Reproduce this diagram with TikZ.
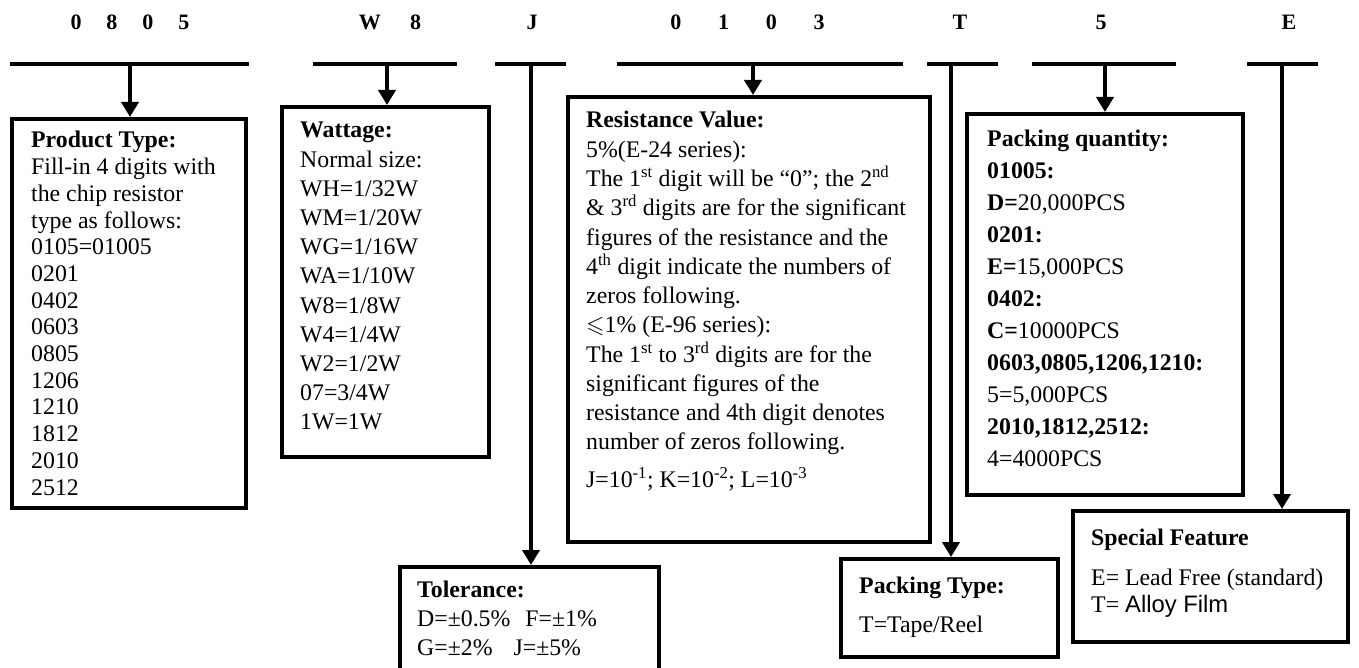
\documentclass[tikz,border=0pt]{standalone}
\usepackage{fontspec}
\setmainfont{Liberation Serif}
\newfontfamily\sansf{Liberation Sans}
\usepackage{amssymb}
\usetikzlibrary{arrows.meta}
\newcommand\blk[2]{\fontsize{23.8}{#1}\selectfont\begin{tabular}[t]{@{}l@{}}#2\end{tabular}}
\begin{document}
\begin{tikzpicture}[x=1pt,y=-1pt,
  bar/.style={line width=4pt},
  link/.style={line width=4pt,-{Triangle[width=17pt,length=15pt]}},
  box/.style={draw,line width=3.8pt,inner sep=0pt,anchor=north west,fill=white},
  txt/.style={anchor=base west,inner sep=0pt},
  code/.style={anchor=base,inner sep=0pt,font=\fontsize{22}{26}\selectfont\bfseries}]
\useasboundingbox (0,0) rectangle (1359,668);
\fill[white] (0,0) rectangle (1359,668);

% code letters
\node[code] (c1) at (130,30) {0\hspace{25pt}8\hspace{25pt}0\hspace{25pt}5};
\node[code] (c2) at (390,30) {W\hspace{29.5pt}8};
\node[code] (c3) at (532,30) {J};
\node[code] (c4) at (747.5,30) {0\hspace{36.7pt}1\hspace{36.7pt}0\hspace{36.7pt}3};
\node[code] (c5) at (960,30) {T};
\node[code] (c6) at (1101,30) {5};
\node[code] (c7) at (1289,30) {E};

% bars
\coordinate (b1l) at (10,64);   \coordinate (b1r) at (249,64);
\coordinate (b2l) at (313,64);  \coordinate (b2r) at (457,64);
\coordinate (b3l) at (495,64);  \coordinate (b3r) at (566,64);
\coordinate (b4l) at (617,64);  \coordinate (b4r) at (903,64);
\coordinate (b5l) at (927,64);  \coordinate (b5r) at (998,64);
\coordinate (b6l) at (1032,64); \coordinate (b6r) at (1176,64);
\coordinate (b7l) at (1247,64); \coordinate (b7r) at (1318,64);
\foreach \i in {1,...,7} {\draw[bar] (b\i l) -- (b\i r);}

% boxes
\node[box,minimum width=234pt,minimum height=389pt] (pt) at (10,117) {};
\node[box,minimum width=207pt,minimum height=350pt] (wt) at (280,105) {};
\node[box,minimum width=362pt,minimum height=445pt] (rv) at (566,95) {};
\node[box,minimum width=259pt,minimum height=125pt] (tol) at (398,565) {};
\node[box,minimum width=276pt,minimum height=381pt] (pq) at (965,112) {};
\node[box,minimum width=217pt,minimum height=98pt] (pk) at (839,557) {};
\node[box,minimum width=275pt,minimum height=131pt] (sf) at (1071,509) {};

% connectors
\coordinate (a1) at (130,64);
\coordinate (a2) at (387,64);
\coordinate (a3) at (531,64);
\coordinate (a4) at (753,64);
\coordinate (a5) at (951,64);
\coordinate (a6) at (1105,64);
\coordinate (a7) at (1282,64);
\draw[link] (a1) -- (a1 |- pt.north);
\draw[link] (a2) -- (a2 |- wt.north);
\draw[link] (a3) -- (a3 |- tol.north);
\draw[link] (a4) -- (a4 |- rv.north);
\draw[link] (a5) -- (a5 |- pk.north);
\draw[link] (a6) -- (a6 |- pq.north);
\draw[link] (a7) -- (a7 |- sf.north);

% texts
\node[txt] (ptt) at (31,148) {\blk{26.7}{\textbf{Product Type:}\\ Fill-in 4 digits with\\ the chip resistor\\ type as follows:\\ 0105=01005\\ 0201\\ 0402\\ 0603\\ 0805\\ 1206\\ 1210\\ 1812\\ 2010\\ 2512}};
\node[txt] (wtt) at (300,138) {\blk{29.2}{\textbf{Wattage:}\\ Normal size:\\ WH=1/32W\\ WM=1/20W\\ WG=1/16W\\ WA=1/10W\\ W8=1/8W\\ W4=1/4W\\ W2=1/2W\\ 07=3/4W\\ 1W=1W}};
\node[txt] (rvt) at (586,128) {\blk{29.2}{\textbf{Resistance Value:}\\ 5\%(E-24 series):\\ The 1\textsuperscript{st} digit will be “0”; the 2\textsuperscript{nd}\\ \& 3\textsuperscript{rd} digits are for the significant\\ figures of the resistance and the\\ 4\textsuperscript{th} digit indicate the numbers of\\ zeros following.\\ $\leqslant$1\% (E-96 series):\\ The 1\textsuperscript{st} to 3\textsuperscript{rd} digits are for the\\ significant figures of the\\ resistance and 4th digit denotes\\ number of zeros following.\\[9pt] J=10\textsuperscript{-1}; K=10\textsuperscript{-2}; L=10\textsuperscript{-3}}};
\node[txt] (tolt) at (417,597) {\blk{29}{\textbf{Tolerance:}\\ D=±0.5\%\hspace{15pt}F=±1\%\\ G=±2\%\hspace{21pt}J=±5\%}};
\node[txt] (pqt) at (987,147) {\blk{32}{\textbf{Packing quantity:}\\ \textbf{01005:}\\ \textbf{D=}20,000PCS\\ \textbf{0201:}\\ \textbf{E=}15,000PCS\\ \textbf{0402:}\\ \textbf{C=}10000PCS\\ \textbf{0603,0805,1206,1210:}\\ 5=5,000PCS\\ \textbf{2010,1812,2512:}\\ 4=4000PCS}};
\node[txt] (pkt) at (859,593) {\blk{39}{\textbf{Packing Type:}\\ T=Tape/Reel}};
\node[txt] (sft) at (1091,545) {\blk{27}{\textbf{Special Feature}\\[13pt] E= Lead Free (standard)\\ T= {\sansf Alloy Film}}};
\end{tikzpicture}
\end{document}
